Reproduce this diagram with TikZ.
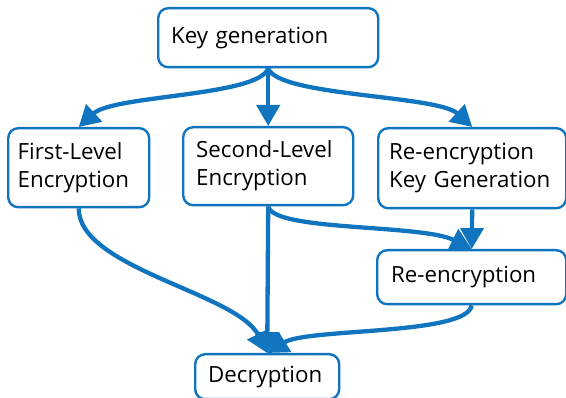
\documentclass[tikz,border=0pt]{standalone}
\usepackage{fontspec}
\setmainfont{Open Sans}
\usetikzlibrary{arrows.meta}
\definecolor{flow}{RGB}{16,117,190}
\begin{document}
\begin{tikzpicture}[x=1pt,y=-1pt,
  box/.style={draw=flow, line width=2.4pt, rounded corners=10pt, fill=white,
    anchor=north west, align=left, inner sep=0pt, font=\fontsize{22.3}{28}\selectfont},
  conn/.style={draw=flow, line width=4.3pt, -{Triangle[length=21pt,width=23pt]}}]
\useasboundingbox (0,0) rectangle (566,398);
\node[box, minimum width=220pt, minimum height=59pt, text width=194pt] (kg) at (157,7) {Key generation};
\node[box, minimum width=141pt, minimum height=79pt, text width=122pt] (fl) at (7,127) {First-Level\\Encryption};
\node[box, minimum width=170pt, minimum height=78pt, text width=144pt] (sl) at (182,126) {Second-Level\\Encryption};
\node[box, minimum width=188pt, minimum height=80pt, text width=166pt] (rkg) at (377,127) {Re-encryption\\Key Generation};
\node[box, minimum width=189pt, minimum height=54pt, text width=161pt] (re) at (376,249) {Re-encryption};
\node[box, minimum width=144pt, minimum height=45pt, text width=118pt] (dec) at (194,353) {Decryption};
\draw[conn] (kg.south) .. controls +(-10,28) and +(35,-32) .. (fl.north);
\draw[conn] (kg.south) -- (sl.north);
\draw[conn] (kg.south) .. controls +(10,28) and +(-35,-32) .. (rkg.north);
\draw[conn] (sl.south) -- (dec.north);
\draw[conn] (sl.south) .. controls +(5,25) and +(-50,-25) .. (re.north);
\draw[conn] (rkg.south) -- (re.north);
\draw[conn] (fl.south) .. controls +(0,60) and +(-30,-60) .. (dec.north);
\draw[conn] (re.south) .. controls +(-5,30) and +(40,-25) .. (dec.north);
\end{tikzpicture}
\end{document}
